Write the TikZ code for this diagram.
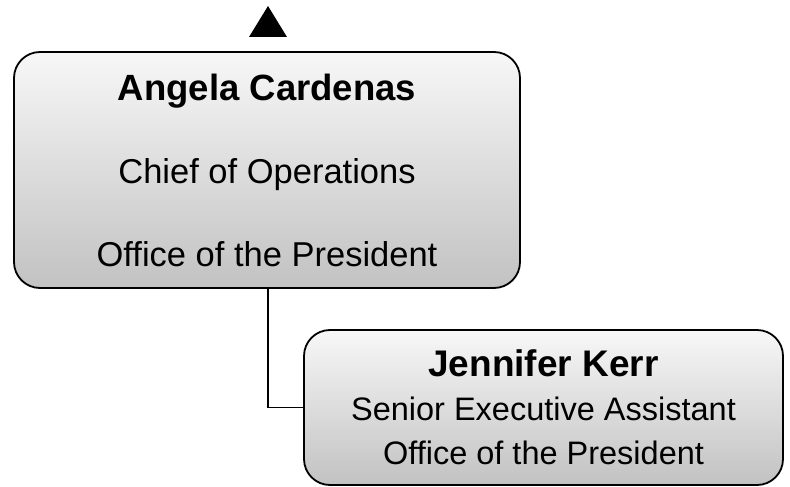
\documentclass[tikz,border=0pt]{standalone}
\usepackage{fontspec}
\setmainfont{Liberation Sans}
\usepackage{xcolor}

\begin{document}
\begin{tikzpicture}
  [x=1pt,y=1pt,line width=1.8pt,
   every node/.style={draw,rounded corners=26pt,top color=black!3,bottom color=black!24,
     align=center,inner sep=0pt}]
  \useasboundingbox (0,0) rectangle (790,-487);

  \node[minimum width=506pt,minimum height=236pt,
    font=\fontsize{34.5}{40}\selectfont] (angela) at (267,-170)
    {{\fontsize{36.5}{40}\selectfont\bfseries Angela Cardenas}\\[43pt]
     Chief of Operations\\[43pt]
     Office of the President};
  \node[minimum width=479pt,minimum height=155pt,
    font=\fontsize{32.5}{44}\selectfont] (jennifer) at (543.5,-407.5)
    {{\fontsize{37}{44}\selectfont\bfseries Jennifer Kerr}\\
     Senior Executive Assistant\\
     Office of the President};

  \coordinate (up) at (268,-6);
  \fill ([xshift=-19pt,yshift=-31pt]up) -- (up) -- ([xshift=19pt,yshift=-31pt]up) -- cycle;

  \draw ([xshift=1pt]angela.south) |- (jennifer.west);

\end{tikzpicture}
\end{document}
